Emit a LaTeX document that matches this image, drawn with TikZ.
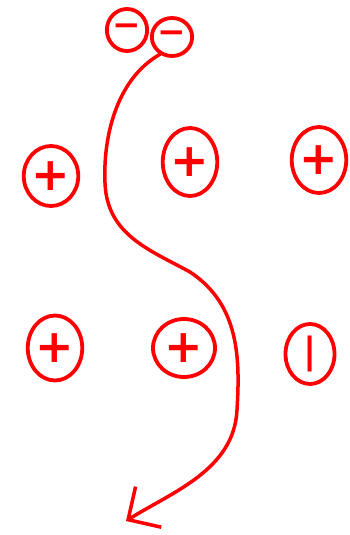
\documentclass[tikz,border=0pt]{standalone}
\usepackage{fontspec}
\newfontfamily\signfont{DejaVu Sans}
\usetikzlibrary{shapes.geometric,arrows.meta}

\begin{document}
\begin{tikzpicture}[x=1pt, y=-1pt,
    charge/.style={ellipse, draw=red, line width=3.8pt, text=red, inner sep=0pt},
    big/.style={font=\signfont\bfseries\fontsize{46}{46}\selectfont},
    small/.style={font=\signfont\bfseries\fontsize{34}{34}\selectfont}]
    \useasboundingbox (0,0) rectangle (350,535);
    % Negative charges on top
    \node[charge, small, minimum width=38pt, minimum height=42pt] (m1) at (127,30) {−};
    \node[charge, small, minimum width=40pt, minimum height=38pt] (m2) at (172,37) {−};
    % Upper row
    \node[charge, big, minimum width=47pt, minimum height=60pt] (p1) at (51,176) {+};
    \node[charge, big, minimum width=52pt, minimum height=68pt] (p2) at (190,162) {+};
    \node[charge, big, minimum width=53pt, minimum height=66pt] (p3) at (319,160) {+};
    % Lower row
    \node[charge, big, minimum width=53pt, minimum height=65pt] (p4) at (55,348) {+};
    \node[charge, big, minimum width=62pt, minimum height=58pt] (p5) at (184,348) {+};
    \node[charge, minimum width=49pt, minimum height=60pt, font=\signfont\bfseries\fontsize{36}{36}\selectfont] (p6) at (310,354) {|};
    % Path of the electron
    \coordinate (end) at (126,521);
    \draw[red, line width=3.5pt, line cap=round, -{Straight Barb[length=24pt, width=48pt]}]
        (m2.235) .. controls (115,80) and (103,140) .. (105,183)
        .. controls (107,235) and (150,250) .. (190,272)
        .. controls (240,305) and (240,360) .. (237,410)
        .. controls (234,470) and (172,492) .. (end);
\end{tikzpicture}
\end{document}
